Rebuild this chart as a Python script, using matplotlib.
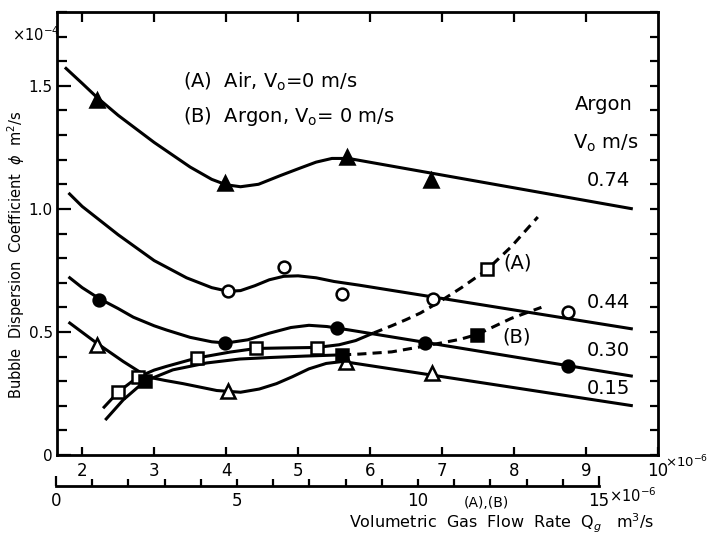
import matplotlib
matplotlib.use('Agg')
import matplotlib.pyplot as plt
from matplotlib.ticker import MultipleLocator

# curves (x in 1e-6 m3/s, y in 1e-4 m2/s)
c074_x = [1.76, 2.0, 2.21, 2.5, 3.0, 3.5, 3.8, 4.0, 4.2, 4.45, 4.75, 5.02, 5.25, 5.47, 5.7, 9.65]
c074_y = [1.575, 1.51, 1.452, 1.38, 1.27, 1.17, 1.12, 1.098, 1.09, 1.10, 1.135, 1.165, 1.19, 1.205, 1.205, 1.0]
c044_x = [1.81, 2.0, 2.5, 3.0, 3.45, 3.8, 4.03, 4.2, 4.4, 4.6, 4.8, 5.0, 5.25, 5.5, 5.85, 9.65]
c044_y = [1.065, 1.01, 0.895, 0.79, 0.72, 0.68, 0.665, 0.668, 0.688, 0.712, 0.726, 0.728, 0.72, 0.705, 0.69, 0.512]
c030_x = [1.81, 2.0, 2.24, 2.5, 2.71, 3.0, 3.17, 3.5, 3.8, 4.0, 4.3, 4.6, 4.9, 5.15, 5.4, 5.71, 9.65]
c030_y = [0.724, 0.68, 0.635, 0.595, 0.56, 0.525, 0.508, 0.478, 0.46, 0.455, 0.468, 0.495, 0.518, 0.527, 0.522, 0.508, 0.32]
c015_x = [1.81, 2.2, 2.57, 2.91, 3.15, 3.4, 3.87, 4.2, 4.46, 4.7, 4.92, 5.15, 5.39, 5.62, 9.65]
c015_y = [0.54, 0.455, 0.38, 0.317, 0.303, 0.29, 0.262, 0.255, 0.268, 0.29, 0.318, 0.35, 0.372, 0.38, 0.2]
cA_x = [2.29, 2.5, 2.77, 3.0, 3.17, 3.59, 4.05, 4.42, 4.8, 5.26, 5.57, 5.8, 6.05]
cA_y = [0.19, 0.256, 0.316, 0.345, 0.36, 0.394, 0.418, 0.433, 0.435, 0.437, 0.448, 0.465, 0.496]
cA_dash_x = [6.05, 6.3, 6.5, 6.7, 6.95, 7.27, 7.62, 7.96, 8.33]
cA_dash_y = [0.496, 0.525, 0.55, 0.577, 0.62, 0.68, 0.752, 0.846, 0.967]
cB_x = [2.32, 2.57, 2.87, 3.26, 3.73, 4.19, 4.6, 5.1, 5.61]
cB_y = [0.142, 0.224, 0.30, 0.346, 0.374, 0.39, 0.396, 0.402, 0.407]
cB_dash_x = [5.61, 5.85, 6.3, 6.67, 7.0, 7.25, 7.49, 7.96, 8.38]
cB_dash_y = [0.407, 0.41, 0.419, 0.438, 0.456, 0.47, 0.49, 0.555, 0.60]

# measured points
p074_x = [2.21, 3.98, 5.68, 6.84]
p074_y = [1.443, 1.106, 1.21, 1.118]
p044_x = [4.03, 4.81, 5.61, 6.88, 8.75]
p044_y = [0.667, 0.764, 0.654, 0.634, 0.58]
p030_x = [2.24, 3.99, 5.54, 6.76, 8.75]
p030_y = [0.63, 0.455, 0.516, 0.455, 0.362]
p015_x = [2.2, 4.02, 5.66, 6.86]
p015_y = [0.447, 0.26, 0.378, 0.333]
pA_x = [2.5, 2.77, 3.59, 4.42, 5.26, 7.62]
pA_y = [0.256, 0.317, 0.394, 0.435, 0.435, 0.756]
pB_x = [2.87, 5.61, 7.49]
pB_y = [0.30, 0.407, 0.488]

main_ticks = [2, 3, 4, 5, 6, 7, 8, 9, 10]
sub_major = [0, 15]
sub_minor = list(range(1, 15))
sub_minor_labels = ['5' if v == 5 else '10' if v == 10 else '' for v in sub_minor]

plt.rcParams['font.family'] = ['DejaVu Sans']
plt.rcParams['mathtext.fontset'] = 'dejavusans'

W, H = 708, 538
fig = plt.figure(figsize=(W / 100, H / 100), dpi=100)


def fx(px):
    return px / W


def fy(py):
    return 1 - py / H


ax = fig.add_axes([fx(57), fy(455), fx(658) - fx(57), fy(12) - fy(455)])
ax.set_xlim(1.65, 10)
ax.set_ylim(0, 1.8)

lw = 2.2
line_kw = dict(color='black', lw=lw, solid_capstyle='butt', zorder=2)
ax.plot(c074_x, c074_y, **line_kw)
ax.plot(c044_x, c044_y, **line_kw)
ax.plot(c030_x, c030_y, **line_kw)
ax.plot(c015_x, c015_y, **line_kw)
ax.plot(cA_x, cA_y, **line_kw)
ax.plot(cB_x, cB_y, **line_kw)
ax.plot(cA_dash_x, cA_dash_y, color='black', lw=lw, ls=(0, (3, 2)), zorder=2)
ax.plot(cB_dash_x, cB_dash_y, color='black', lw=lw, ls=(0, (3, 2)), zorder=2)

mk = dict(ls='none', markeredgecolor='black', markeredgewidth=1.8, zorder=4)
ax.plot(p074_x, p074_y, marker='^', ms=10, markerfacecolor='black', **mk)
ax.plot(p044_x, p044_y, marker='o', ms=8.5, markerfacecolor='white', **mk)
ax.plot(p030_x, p030_y, marker='o', ms=8.5, markerfacecolor='black', **mk)
ax.plot(p015_x, p015_y, marker='^', ms=9.5, markerfacecolor='white', **mk)
ax.plot(pA_x, pA_y, marker='s', ms=8, markerfacecolor='white', **mk)
ax.plot(pB_x, pB_y, marker='s', ms=8, markerfacecolor='black', **mk)

for s in ax.spines.values():
    s.set_linewidth(2)

ax.set_xticks(main_ticks, labels=[str(v) for v in main_ticks])
ax.tick_params(axis='x', direction='in', length=6, width=1.6, labelsize=12, pad=5)
ax.set_yticks([0, 0.5, 1.0, 1.5], labels=['0', '0.5', '1.0', '1.5'])
ax.yaxis.set_minor_locator(MultipleLocator(0.1))
ax.tick_params(axis='y', which='major', direction='in', length=10, width=1.6, labelsize=11, pad=3)
ax.tick_params(axis='y', which='minor', direction='in', length=7, width=1.6)

top = ax.secondary_xaxis('top')
top.set_xticks(main_ticks[:-1])
top.tick_params(direction='in', length=7, width=1.6, labeltop=False)
right = ax.secondary_yaxis('right')
right.yaxis.set_major_locator(MultipleLocator(0.1))
right.tick_params(direction='in', length=6, width=1.6, labelright=False)

fig.text(fx(665), fy(462), '×10$^{-6}$', ha='left', va='center', fontsize=9.5)
fig.text(fx(12), fy(35), '×10$^{-4}$', ha='left', va='center', fontsize=10.5)

fig.text(fx(16), fy(255), 'Bubble  Dispersion  Coefficient  $\\phi$  m$^2$/s', rotation=90,
         ha='center', va='center', fontsize=10.5)

# annotations
txt = dict(fontsize=14, color='black')
fig.text(fx(183), fy(82), '(A)  Air, V$_{\\mathregular{o}}$=0 m/s', va='center', **txt)
fig.text(fx(183), fy(117), '(B)  Argon, V$_{\\mathregular{o}}$= 0 m/s', va='center', **txt)
fig.text(fx(604), fy(105), 'Argon', ha='center', va='center', **txt)
fig.text(fx(606), fy(143), 'V$_{\\mathregular{o}}$ m/s', ha='center', va='center', **txt)
fig.text(fx(608), fy(180), '0.74', ha='center', va='center', **txt)
fig.text(fx(608), fy(302), '0.44', ha='center', va='center', **txt)
fig.text(fx(608), fy(350), '0.30', ha='center', va='center', **txt)
fig.text(fx(608), fy(388), '0.15', ha='center', va='center', **txt)
fig.text(fx(518), fy(263), '(A)', ha='center', va='center', **txt)
fig.text(fx(517), fy(337), '(B)', ha='center', va='center', **txt)

# second flow-rate scale for (A),(B)
ax2 = fig.add_axes([fx(56), fy(486), fx(599) - fx(56), 0.0001])
ax2.set_xlim(0, 15)
ax2.patch.set_visible(False)
for side in ['top', 'left', 'right']:
    ax2.spines[side].set_visible(False)
ax2.spines['bottom'].set_linewidth(2)
ax2.set_yticks([])
ax2.set_xticks(sub_major, labels=['0', '15'])
ax2.set_xticks(sub_minor, labels=sub_minor_labels, minor=True)
ax2.tick_params(axis='x', which='major', direction='in', length=7.5, width=1.6, labelsize=12, pad=4)
ax2.tick_params(axis='x', which='minor', direction='in', length=5, width=1.6, labelsize=12, pad=4)
fig.text(fx(609), fy(496), '×10$^{-6}$', ha='left', va='center', fontsize=10.5)

fig.text(fx(486), fy(503), '(A),(B)', ha='center', va='center', fontsize=10)
fig.text(fx(502), fy(523), 'Volumetric  Gas  Flow  Rate  Q$_g$   m$^3$/s', ha='center', va='center', fontsize=11.5)

fig.savefig('out.png', dpi=100)
